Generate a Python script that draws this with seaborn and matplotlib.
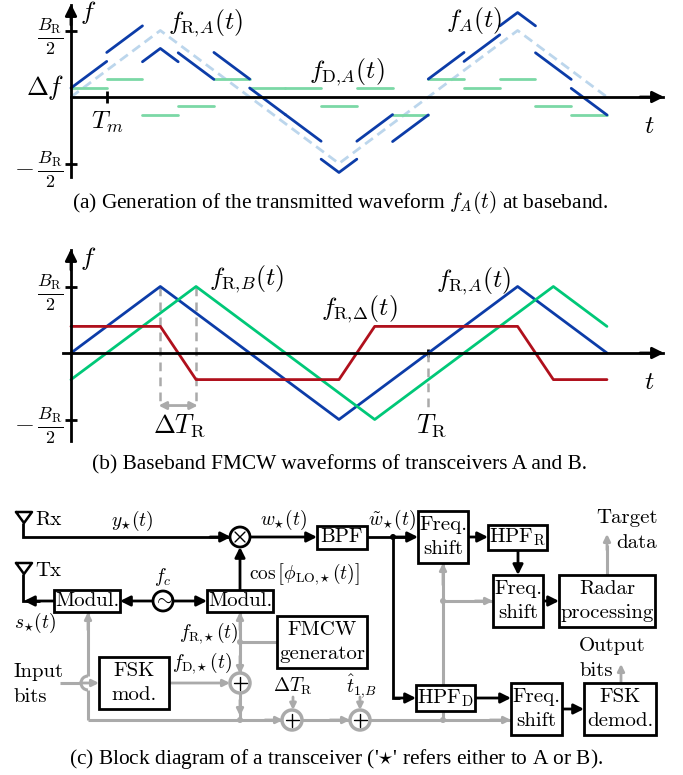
import pandas as pd
import matplotlib
matplotlib.use("Agg")
import matplotlib.pyplot as plt
import seaborn as sns
from matplotlib.patches import Circle, Rectangle, Arc

sns.set_theme(style="white")
plt.rcParams["mathtext.fontset"] = "cm"
plt.rcParams["font.family"] = ["cmr10", "DejaVu Sans"]
plt.rcParams["axes.formatter.use_mathtext"] = True

# waveform values, time in units of Tm, frequency in units of BR/2
peak_t = [0, 2.5, 7.5, 12.5, 15]
peak_f = [0, 1, -1, 1, 0]
fr_b_t = [0, 3.5, 8.5, 13.5, 15]
fr_b_f = [-0.4, 1, -1, 1, 0.4]
fr_d_t = [0, 2.5, 3.5, 7.5, 8.5, 12.5, 13.5, 15]
fr_d_f = [0.4, 0.4, -0.4, -0.4, 0.4, 0.4, -0.4, -0.4]

# FSK levels for each Tm slot
fd_levels = [0.135, 0.27, -0.27, -0.135, 0.27, 0.135, 0.135, -0.135,
             0.135, -0.27, 0.27, 0.135, 0.27, -0.135, -0.27]

# transmitted waveform, slot by slot
fa_seg = [0, 0, 1, 1, 2, 2, 2, 3, 3, 4, 4, 5, 5, 6, 6, 7, 7, 7, 8, 8, 9, 9, 10, 10,
          11, 11, 12, 12, 12, 13, 13, 14, 14]
fa_t = [0, 1, 1, 2, 2, 2.5, 3, 3, 4, 4, 5, 5, 6, 6, 7, 7, 7.5, 8, 8, 9, 9, 10, 10, 11,
        11, 12, 12, 12.5, 13, 13, 14, 14, 15]
fa_f = [0.135, 0.535, 0.67, 1.07, 0.53, 0.73, 0.53, 0.665, 0.265, 0.67, 0.27,
        0.135, -0.265, -0.265, -0.665, -0.935, -1.135, -0.935, -0.665, -0.265,
        -0.67, -0.27, 0.27, 0.67, 0.535, 0.935, 1.07, 1.27, 1.07, 0.665, 0.265,
        0.13, -0.27]

BLUE = "#0c3ca8"
PALE = "#bcd6ec"
MINT = "#7bd8a6"
GREEN = "#00c878"
RED = "#b0101c"
GRAY = "#aaaaaa"

W, H = 683, 775
X0, TM = 71, 35.73
UNIT = 66.5
BIG = 18.5
SMALL = 14
CAP = 15.4
BLOCK = 15


def wave_axes(fig, top, y0, bottom, left):
    ax = fig.add_axes([left / W, 1 - bottom / H, (663 - left) / W, (bottom - top) / H])
    ax.set_xlim((left - X0) / TM, (663 - X0) / TM)
    ax.set_ylim((y0 - bottom) / UNIT, (y0 - top) / UNIT)
    ax.patch.set_alpha(0)
    for s in ["top", "right"]:
        ax.spines[s].set_visible(False)
    ax.spines["left"].set_position(("data", 0))
    ax.spines["bottom"].set_position(("data", 0))
    for s in ["left", "bottom"]:
        ax.spines[s].set_linewidth(2)
        ax.spines[s].set_color("black")
    ax.set_yticks([-1, 1], [r"$-\,\frac{B_{\mathrm{R}}}{2}$", r"$\frac{B_{\mathrm{R}}}{2}$"],
                  fontsize=18.5, color="black")
    ax.tick_params(axis="both", direction="inout", length=9, width=2, left=True, bottom=True,
                   color="black", pad=1)
    ax.set_xlabel("")
    ax.set_ylabel("")
    return ax


def draw(ax, df, color, lw, **kw):
    sns.lineplot(data=df, x="t", y="f", units="seg", estimator=None, color=color, lw=lw,
                 ax=ax, legend=False, clip_on=False, **kw)
    ax.set_xlabel("")
    ax.set_ylabel("")


fig = plt.figure(figsize=(W / 100, H / 100), dpi=100)

# (a) generation of the waveform
ax_a = wave_axes(fig, 5, 97, 177, 71)
ax_a.set_xticks([1], [""])
tri = pd.DataFrame({"t": peak_t, "f": peak_f, "seg": 0})
draw(ax_a, tri, PALE, 2, linestyle=(0, (3.5, 2)))
fd_rows = []
for i, lev in enumerate(fd_levels):
    fd_rows.append({"t": i, "f": lev, "seg": i})
    fd_rows.append({"t": i + 1, "f": lev, "seg": i})
draw(ax_a, pd.DataFrame(fd_rows), MINT, 2)
fa = pd.DataFrame({"t": fa_t, "f": fa_f, "seg": fa_seg})
draw(ax_a, fa, BLUE, 2)

# (b) FMCW waveforms
ax_b = wave_axes(fig, 250, 353, 441, 63)
ax_b.set_xticks([10], [""])
ax_b.tick_params(axis="x", length=6)
for tx, end in [(2.5, -0.78), (3.5, -0.78), (10, -0.82)]:
    start = 1 if tx < 10 else 0
    ax_b.plot([tx, tx], [start, end], color=GRAY, lw=1.8, ls=(0, (3.5, 2.5)), zorder=1)
draw(ax_b, pd.DataFrame({"t": peak_t, "f": peak_f, "seg": 0}), BLUE, 2)
draw(ax_b, pd.DataFrame({"t": fr_b_t, "f": fr_b_f, "seg": 0}), GREEN, 2)
draw(ax_b, pd.DataFrame({"t": fr_d_t, "f": fr_d_f, "seg": 0}), RED, 2)
ax_b.annotate("", xy=(2.45, -0.79), xytext=(3.55, -0.79),
              arrowprops=dict(arrowstyle="<|-|>", color=GRAY, lw=2, mutation_scale=11,
                              shrinkA=0, shrinkB=0))

# everything else goes on a sheet in pixel coordinates
ov = fig.add_axes([0, 0, 1, 1])
ov.set_xlim(0, W)
ov.set_ylim(H, 0)
ov.axis("off")
ov.patch.set_alpha(0)


def txt(x, y, s, size=16, ha="center", **kw):
    ov.text(x, y, s, fontsize=size, ha=ha, va="center", color="black", **kw)


def line(xs, ys, c="black", lw=2):
    ov.plot(xs, ys, color=c, lw=lw, solid_capstyle="butt", solid_joinstyle="miter", zorder=2)


def arrow(x1, y1, x2, y2, c="black", scale=15, lw=2):
    ov.annotate("", xy=(x2, y2), xytext=(x1, y1), zorder=3,
                arrowprops=dict(arrowstyle="-|>", color=c, lw=lw, mutation_scale=scale,
                                shrinkA=0, shrinkB=0))


def box(x1, y1, x2, y2, lines, size=BLOCK):
    ov.add_patch(Rectangle((x1, y1), x2 - x1, y2 - y1, fc="white", ec="black", lw=2, zorder=4))
    n = len(lines)
    for i, s in enumerate(lines):
        ov.text((x1 + x2) / 2, (y1 + y2) / 2 + (i - (n - 1) / 2) * 24, s, fontsize=size,
                ha="center", va="center", color="black", zorder=5)


def summer(x, y, c=GRAY, mark="+"):
    ov.add_patch(Circle((x, y), 10, fc="white", ec=c, lw=2.5 if mark == "+" else 2, zorder=4))
    d = 6.5 if mark == "+" else 5
    if mark == "+":
        ov.plot([x - d, x + d], [y, y], color="black", lw=1, zorder=5)
        ov.plot([x, x], [y - d, y + d], color="black", lw=1, zorder=5)
    else:
        ov.plot([x - d, x + d], [y - d, y + d], color="black", lw=1, zorder=5)
        ov.plot([x - d, x + d], [y + d, y - d], color="black", lw=1, zorder=5)


def dot(x, y, c=GRAY):
    ov.add_patch(Circle((x, y), 3, fc=c, ec="none", zorder=5))


# axis arrows and labels, top panels
for y_ax, top in [(97, 5), (353, 250)]:
    arrow(640, y_ax, 664, y_ax, scale=17)
    arrow(71, top + 20, 71, top - 1, scale=17)

txt(88, 13, r"$f$", BIG)
txt(45, 87, r"$\Delta f$", 19)
txt(107, 122, r"$T_m$", BIG)
txt(649, 126, r"$t$", BIG)
txt(206, 23, r"$f_{\mathrm{R},\!A}(t)$", BIG)
txt(347, 72, r"$f_{\mathrm{D},\!A}(t)$", BIG)
txt(474, 21, r"$f_A(t)$", BIG)
txt(340, 203, r"(a) Generation of the transmitted waveform $f_A(t)$ at baseband.", CAP,
    family="Liberation Serif")

txt(88, 258, r"$f$", BIG)
txt(247, 279, r"$f_{\mathrm{R},\!B}(t)$", BIG)
txt(474, 281, r"$f_{\mathrm{R},\!A}(t)$", BIG)
txt(359, 309, r"$f_{\mathrm{R},\!\Delta}(t)$", BIG)
txt(649, 382, r"$t$", BIG)
txt(179, 426, r"$\Delta T_{\mathrm{R}}$", 19)
txt(431, 426, r"$T_{\mathrm{R}}$", 19)
txt(340, 465, "(b) Baseband FMCW waveforms of transceivers A and B.", CAP,
    family="Liberation Serif")

# (c) black signal path
line([23, 23, 232], [523, 537, 537])
arrow(210, 537, 231, 537)
arrow(249, 537, 317, 537)
line([367, 410], [537, 537])
arrow(395, 537, 418, 537)
dot(393, 537, "black")
line([393, 393, 400], [537, 698, 698])
arrow(395, 698, 416, 698)
arrow(468, 537, 488, 537)
arrow(518, 550, 518, 575)
arrow(543, 601, 559, 601)
arrow(475, 698, 511, 698)
arrow(562, 709, 584, 709)
line([23, 23, 40], [574, 601, 601])
arrow(54, 601, 24, 601)
arrow(153, 601, 120, 601)
arrow(173, 601, 207, 601)
arrow(240, 590, 240, 547)

# antennas
for ty in [512, 563]:
    ov.plot([16, 32, 24, 16], [ty, ty, ty + 11, ty], color="black", lw=1.8)

# gray control path
line([88, 88], [612, 676], GRAY, 2.2)
line([88, 88], [690, 720], GRAY, 2.2)
ov.add_patch(Arc((88, 683), 14, 14, theta1=90, theta2=270, ec=GRAY, lw=2.2, zorder=2))
arrow(88, 630, 88, 612, GRAY, 10)
line([60, 81], [683, 683], GRAY, 2.2)
arrow(80, 683, 99, 683, GRAY, 10)
line([88, 282], [720, 720], GRAY, 2.2)
arrow(265, 720, 283, 720, GRAY, 10)
line([240, 240], [612, 673], GRAY, 2.2)
line([240, 240], [693, 720], GRAY, 2.2)
arrow(240, 630, 240, 612, GRAY, 10)
arrow(240, 656, 240, 674, GRAY, 10)
arrow(240, 700, 240, 716, GRAY, 10)
line([240, 277], [642, 642], GRAY, 2.2)
dot(240, 642)
dot(240, 720)
arrow(169, 683, 230, 683, GRAY, 10)
line([302, 350], [720, 720], GRAY, 2.2)
arrow(330, 720, 350, 720, GRAY, 10)
line([370, 511], [720, 720], GRAY, 2.2)
arrow(490, 720, 511, 720, GRAY, 10)
dot(443, 720)
line([443, 443], [563, 720], GRAY, 2.2)
arrow(443, 585, 443, 563, GRAY, 10)
dot(443, 601)
line([443, 493], [601, 601], GRAY, 2.2)
arrow(475, 601, 493, 601, GRAY, 10)
arrow(293, 697, 293, 710, GRAY, 9)
arrow(360, 697, 360, 710, GRAY, 9)
line([607, 607], [575, 545], GRAY, 2.2)
arrow(607, 550, 607, 534, GRAY, 10)
arrow(621, 683, 621, 664, GRAY, 10)

# blocks
box(317, 526, 367, 549, ["BPF"])
box(418, 511, 468, 563, ["Freq.", "shift"])
box(488, 525, 547, 550, [r"HPF$_{\mathrm{R}}$"])
box(493, 575, 543, 627, ["Freq.", "shift"])
box(559, 575, 655, 627, ["Radar", "processing"])
box(416, 685, 475, 711, [r"HPF$_{\mathrm{D}}$"])
box(511, 683, 562, 735, ["Freq.", "shift"])
box(584, 683, 656, 735, ["FSK", "demod."])
box(54, 590, 120, 612, ["Modul."])
box(207, 590, 273, 612, ["Modul."])
box(277, 616, 367, 668, ["FMCW", "generator"])
box(99, 657, 169, 709, ["FSK", "mod."])

summer(240, 537, "black", "x")
summer(240, 683)
summer(292, 720)
summer(360, 720)
ov.add_patch(Circle((163, 601), 10, fc="white", ec="black", lw=2, zorder=4))
ov.text(163, 600, r"$\sim$", fontsize=15, ha="center", va="center", color="black", zorder=5)

txt(35, 520, "Rx", BLOCK, ha="left")
txt(35, 571, "Tx", BLOCK, ha="left")
txt(132, 521, r"$y_{\star}(t)$", SMALL)
txt(284, 520, r"$w_{\star}(t)$", SMALL)
txt(392, 520, r"$\tilde{w}_{\star}(t)$", SMALL)
txt(163, 577, r"$f_c$", SMALL)
txt(249, 574, r"$\cos\left[\phi_{\mathrm{LO},\!\!\star}(t)\right]$", SMALL, ha="left")
txt(35, 623, r"$s_{\star}(t)$", SMALL)
txt(209, 633, r"$f_{\mathrm{R},\!\!\star}(t)$", SMALL)
txt(202, 663, r"$f_{\mathrm{D},\!\!\star}(t)$", SMALL)
txt(38, 672, "Input", BLOCK)
txt(30, 697, "bits", BLOCK)
txt(293, 686, r"$\Delta T_{\mathrm{R}}$", SMALL)
txt(362, 687, r"$\hat{t}_{1,\!B}$", SMALL)
txt(627, 518, "Target", BLOCK)
txt(637, 543, "data", BLOCK)
txt(612, 646, "Output", BLOCK)
txt(596, 671, "bits", BLOCK)
txt(336, 759, r"(c) Block diagram of a transceiver ('$\star$' refers either to A or B).", CAP,
    family="Liberation Serif")

fig.savefig("out.png", dpi=100)
